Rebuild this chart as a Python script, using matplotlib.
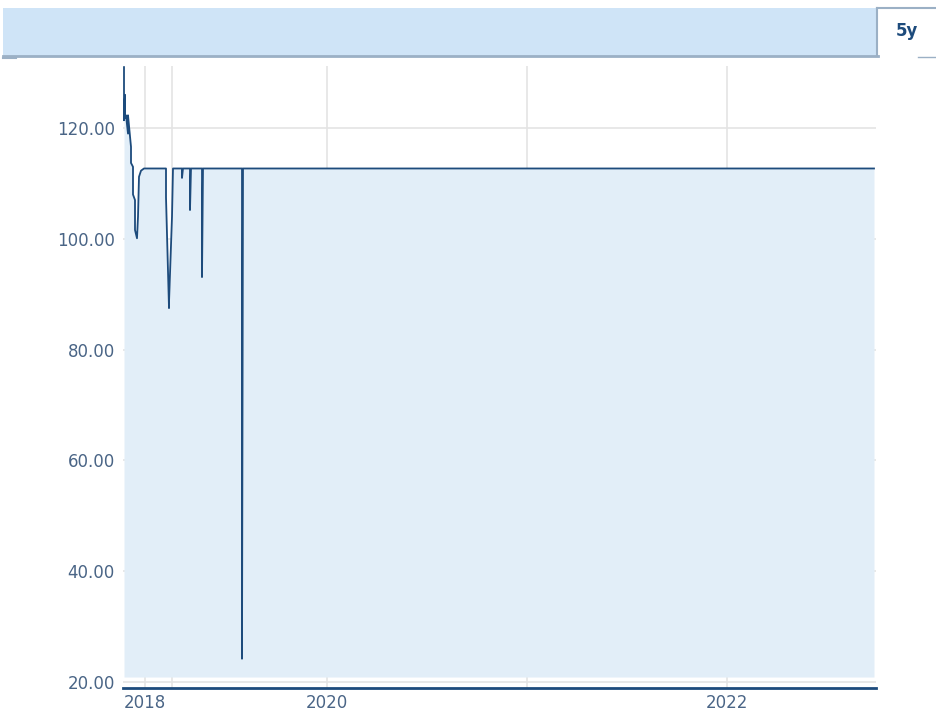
import numpy as np
import matplotlib.pyplot as plt
from matplotlib.patches import Rectangle
from matplotlib.lines import Line2D

# fractional time positions (axis units, 1 unit = 1 year from 2020 on)
dates = [2018.985, 2018.985, 2018.99, 2018.99, 2018.995, 2019.005, 2019.005,
         2019.02, 2019.02, 2019.03, 2019.03, 2019.04, 2019.04, 2019.05,
         2019.055, 2019.06, 2019.07, 2019.085,
         2019.195, 2019.195, 2019.21, 2019.21, 2019.225, 2019.23,
         2019.275, 2019.275, 2019.28,
         2019.315, 2019.315, 2019.32,
         2019.375, 2019.375, 2019.38,
         2019.575, 2019.575, 2019.58,
         2022.735]
values = [131.0, 121.4, 126.0, 121.8, 122.3, 119.0, 122.3,
          116.6, 113.7, 113.0, 108.0, 107.0, 101.6, 100.1,
          104.0, 111.2, 112.3, 112.7,
          112.7, 107.5, 87.5, 88.5, 104.0, 112.7,
          112.7, 111.0, 112.7,
          112.7, 105.2, 112.7,
          112.7, 93.1, 112.7,
          112.7, 24.2, 112.7,
          112.7]

yticks = [20, 40, 60, 80, 100, 120]
xgrid = [2019.09, 2019.225, 2020, 2021, 2022]
xlabels = ['2018', '', '2020', '', '2022']

line_col = '#1d4b7c'
fill_col = '#e2eef8'
tick_col = '#4a6586'

fig = plt.figure(figsize=(9.37, 7.2), dpi=100)
ax = fig.add_axes([123/937, 1-688/720, (876-123)/937, (688-66)/720])

ax.fill_between(dates, values, 20.9, color=fill_col, lw=0, zorder=1)
ax.plot(dates, values, color=line_col, lw=1.3, zorder=3)

ax.set_xlim(2018.98, 2022.745)
ax.set_ylim(18.92, 131.2)
ax.set_yticks(yticks)
ax.set_yticklabels(['%.2f' % v for v in yticks])
ax.set_xticks(xgrid)
ax.set_xticklabels(xlabels)
ax.grid(True, color='#e4e4e4', lw=1.2, zorder=0)
ax.set_axisbelow(True)
ax.tick_params(axis='both', length=0, labelsize=12, colors=tick_col, pad=6)
ax.tick_params(axis='x', pad=4)
for s in ['top', 'right', 'left']:
    ax.spines[s].set_visible(False)
ax.spines['bottom'].set_color(line_col)
ax.spines['bottom'].set_linewidth(2)

# header bar
W, H = 937, 720
fig.patches.append(Rectangle((3/W, 1-56/H), (876-3)/W, 48/H, transform=fig.transFigure,
                             facecolor='#cfe4f7', edgecolor='none'))
fig.lines.append(Line2D([3/W, 878/W], [1-56/H, 1-56/H], transform=fig.transFigure,
                        color='#9bb0c5', lw=2))
fig.lines.append(Line2D([877/W, 877/W], [1-8/H, 1-56/H], transform=fig.transFigure,
                        color='#9bb0c5', lw=1.5))
fig.lines.append(Line2D([877/W, 937/W], [1-8/H, 1-8/H], transform=fig.transFigure,
                        color='#9bb0c5', lw=1.5))
fig.lines.append(Line2D([3/W, 16/W], [1-58/H, 1-58/H], transform=fig.transFigure,
                        color='#9bb0c5', lw=1.5))
fig.lines.append(Line2D([918/W, 937/W], [1-57/H, 1-57/H], transform=fig.transFigure,
                        color='#9bb0c5', lw=1))
fig.text(907/W, 1-31/H, '5y', ha='center', va='center', fontsize=12,
         fontweight='bold', color='#1d4b7c')

fig.savefig('out.png', dpi=100)
